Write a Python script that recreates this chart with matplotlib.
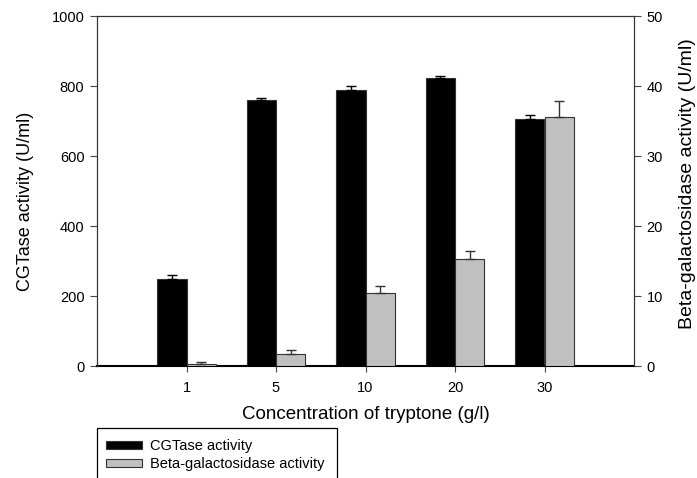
import matplotlib
matplotlib.use("Agg")
import matplotlib.pyplot as plt
from matplotlib.patches import Rectangle, Patch
import numpy as np

plt.rcParams['font.family'] = ['Liberation Sans', 'DejaVu Sans']

categories = ["1", "5", "10", "20", "30"]
cgtase = [250, 759, 789, 822, 707]
cgtase_err = [9, 8, 11, 6, 9]
beta = [0.33, 1.67, 10.4, 15.3, 35.6]
beta_err = [0.2, 0.67, 1.0, 1.2, 2.2]

W, H = 697, 478
fig = plt.figure(figsize=(W / 100, H / 100), dpi=100)
ax = fig.add_axes([97 / W, 1 - 366 / H, (634 - 97) / W, (366 - 16) / H])
ax2 = ax.twinx()

x = np.arange(len(categories))
bw = 0.325
ax.bar(x - bw / 2, cgtase, bw, color='black', edgecolor='#333333', linewidth=0.8, zorder=2)
ax.errorbar(x - bw / 2, cgtase, yerr=[np.zeros(len(cgtase)), cgtase_err], fmt='none',
            ecolor='black', elinewidth=1, capsize=3.5, capthick=1, zorder=3)
ax2.bar(x + bw / 2, beta, bw, color='#c0c0c0', edgecolor='#333333', linewidth=0.8, zorder=2)
ax2.errorbar(x + bw / 2, beta, yerr=[np.zeros(len(beta)), beta_err], fmt='none',
             ecolor='#333333', elinewidth=1, capsize=3.5, capthick=1, zorder=3)

ax.set_xlim(-1, 5)
ax.set_ylim(0, 1000)
ax2.set_ylim(0, 50)
ax.set_yticks(np.arange(0, 1001, 200))
ax2.set_yticks(np.arange(0, 51, 10))
ax.set_xticks(x)
ax.set_xticklabels(categories)

fs = 10.5
for a in (ax, ax2):
    a.tick_params(labelsize=fs, width=0.8, length=5, color='#444444', pad=4)
    for s in a.spines.values():
        s.set_linewidth(0.8)
        s.set_color('#333333')
ax.tick_params(axis='x', length=4, pad=7)
ax.spines['bottom'].set_linewidth(1.5)
ax.spines['bottom'].set_color('black')
ax2.spines['bottom'].set_visible(False)

ax.set_ylabel("CGTase activity (U/ml)", fontsize=13)
ax2.set_ylabel("Beta-galactosidase activity (U/ml)", fontsize=14)
ax.set_xlabel("Concentration of tryptone (g/l)", fontsize=13.5, labelpad=8)
ax.yaxis.set_label_coords((34 - 97) / (634 - 97), 0.47)
ax2.yaxis.set_label_coords((679 - 97) / (634 - 97), 0.52)

# legend box (extends past figure bottom)
fig.patches.append(Rectangle((96.7 / W, -0.05), (336.7 - 96.7) / W, 0.05 + 1 - 428.3 / H,
                             transform=fig.transFigure, fill=False, edgecolor='black',
                             linewidth=0.9))
handles = [Patch(facecolor='black', edgecolor='#333333', linewidth=0.8),
           Patch(facecolor='#c0c0c0', edgecolor='#333333', linewidth=0.8)]
fig.legend(handles, ["CGTase activity", "Beta-galactosidase activity"],
           loc='upper left', bbox_to_anchor=(106 / W, 1 - 439 / H), frameon=False,
           fontsize=10.5, handlelength=2.5, handleheight=0.5, handletextpad=0.55,
           labelspacing=0.3, borderpad=0, borderaxespad=0)

fig.savefig("out.png", dpi=100)
